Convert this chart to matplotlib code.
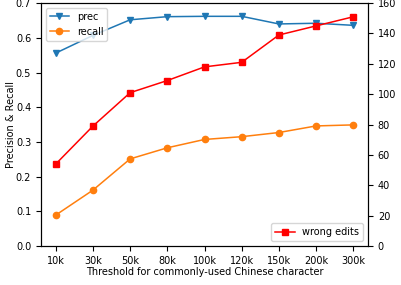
import matplotlib
matplotlib.use("Agg")
import matplotlib.pyplot as plt

thresholds = ["10k", "30k", "50k", "80k", "100k", "120k", "150k", "200k", "300k"]
prec = [0.556, 0.607, 0.652, 0.661, 0.662, 0.662, 0.640, 0.642, 0.636]
recall = [0.089, 0.161, 0.251, 0.283, 0.307, 0.315, 0.327, 0.346, 0.349]
wrong_edits = [54, 79, 101, 109, 118, 121, 139, 145, 151]

plt.rcParams["font.size"] = 7

fig = plt.figure(figsize=(4.01, 2.85), dpi=100)
ax1 = fig.add_axes([0.102, 0.137, 0.816, 0.852])
x = list(range(len(thresholds)))
ax1.plot(x, prec, marker="v", color="tab:blue", markersize=4.5, linewidth=1.1, label="prec")
ax1.plot(x, recall, marker="o", color="tab:orange", markersize=4.5, linewidth=1.1, label="recall")
ax1.set_ylim(0, 0.7)
ax1.set_xticks(x)
ax1.set_xticklabels(thresholds)
ax1.set_xlabel("Threshold for commonly-used Chinese character", labelpad=1)
ax1.set_ylabel("Precision & Recall", labelpad=0)
ax1.legend(loc="upper left")

ax2 = ax1.twinx()
ax2.plot(x, wrong_edits, marker="s", color="red", markersize=4.5, linewidth=1.1, label="wrong edits")
ax2.set_ylim(0, 160)
ax2.set_ylabel("Number of wrong edits")
ax2.legend(loc="lower right")

fig.savefig("out.png", dpi=100)
